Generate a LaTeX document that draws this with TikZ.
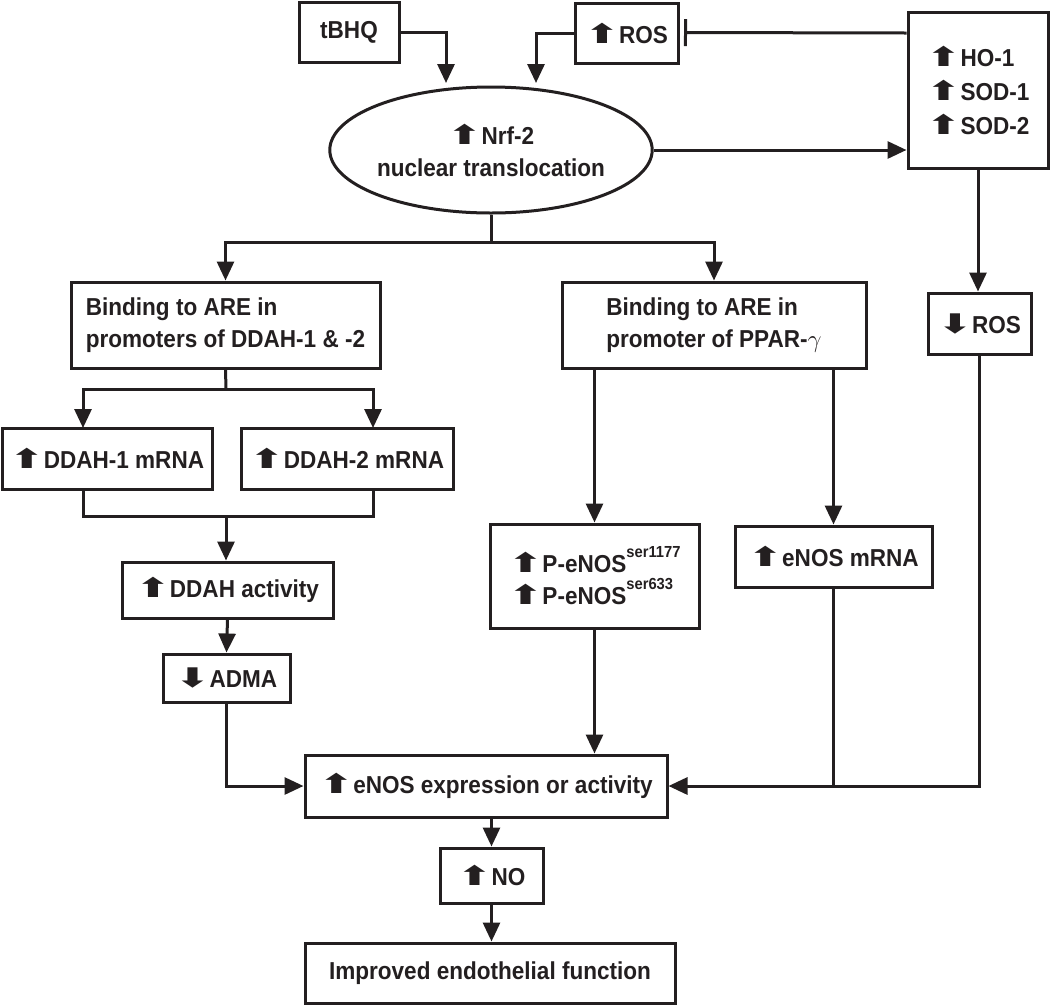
\documentclass[tikz,border=0pt]{standalone}
\usepackage{fontspec}
\usepackage{graphicx}
\setmainfont{Liberation Sans}[FakeStretch=0.92]
\newfontfamily\arrowfont{DejaVu Sans}
\usetikzlibrary{arrows.meta,shapes.geometric,calc}
\definecolor{fg}{RGB}{35,31,32}
\newcommand\upa{\scalebox{1.5}[1]{\arrowfont\fontsize{27}{27}\selectfont\symbol{"2B06}}\hspace{0pt}}
\newcommand\dna{\scalebox{1.5}[1]{\arrowfont\fontsize{27}{27}\selectfont\symbol{"2B07}}\hspace{0pt}}
\newcommand\supr[1]{\raisebox{15pt}{\fontsize{16}{16}\selectfont #1}}
\begin{document}
\begin{tikzpicture}[x=1pt,y=-1pt,
  every node/.style={font=\bfseries\fontsize{24.5}{32}\selectfont, text=fg},
  box/.style={draw=fg, line width=3pt, inner sep=0pt, rectangle},
  ln/.style={draw=fg, line width=3pt},
  arr/.style={ln, -{Triangle[length=19pt,width=17pt]}},
  inh/.style={ln, -{Bar[width=27pt]}}]
\useasboundingbox (0,0) rectangle (1050,1005);
% nodes
\node[box, minimum width=100pt, minimum height=60pt] (tbhq) at (349,32.5) {tBHQ};
\node[box, minimum width=103pt, minimum height=60pt] (rosup) at (626.5,33) {\upa ROS};
\node[box, minimum width=140pt, minimum height=156pt, align=left, font=\bfseries\fontsize{24.5}{34}\selectfont] (ho) at (978,90) {\upa HO-1\\ \upa SOD-1\\ \upa SOD-2};
\node[draw=fg, line width=3pt, ellipse, inner sep=0pt, minimum width=286pt, minimum height=126pt, align=center] (nrf) at (491,150) {\upa Nrf-2\\ nuclear translocation};
\node[box, minimum width=309pt, minimum height=86pt, align=left] (b1) at (225.5,325) {Binding to ARE in\\ promoters of DDAH-1 \& -2};
\node[box, minimum width=304pt, minimum height=86pt, align=left] (b2) at (714,325) {Binding to ARE in\\ promoter of PPAR-$\gamma$};
\node[box, minimum width=103pt, minimum height=61pt] (rosd) at (979.5,323.5) {\dna ROS};
\node[box, minimum width=210pt, minimum height=61pt] (d1) at (107,458.5) {\upa DDAH-1 mRNA};
\node[box, minimum width=212pt, minimum height=61pt] (d2) at (347,458.5) {\upa DDAH-2 mRNA};
\node[box, minimum width=211pt, minimum height=56pt] (da) at (227.5,590) {\upa DDAH activity};
\node[box, minimum width=127pt, minimum height=48pt] (adma) at (226.5,678) {\dna ADMA};
\node[box, minimum width=209pt, minimum height=104pt, align=left] (pe) at (594.5,576) {\upa P-eNOS\supr{ser1177}\\ \upa P-eNOS\supr{ser633}};
\node[box, minimum width=197pt, minimum height=61pt] (em) at (833.5,556.5) {\upa eNOS mRNA};
\node[box, minimum width=362pt, minimum height=62pt] (enos) at (486,786) {\upa eNOS expression or activity};
\node[box, minimum width=103pt, minimum height=55pt] (no) at (491.5,875.5) {\upa NO};
\node[box, minimum width=370pt, minimum height=60pt] (imp) at (490,973) {Improved endothelial function};
% coordinates
\coordinate (t1) at (446,83);
\coordinate (r1) at (536,83);
\coordinate (bar) at (684,32.5);
\coordinate (s1) at (491,242);
\coordinate (s2) at (226,389);
\coordinate (d1in) at (83,428);
\coordinate (d2in) at (373,428);
\coordinate (d1out) at (83,489);
\coordinate (d2out) at (373,489);
\coordinate (j2) at (226,516);
% connectors
\draw[arr] (tbhq.east) -| (t1);
\draw[arr] (rosup.west) -| (r1);
\draw[inh] (ho.west |- rosup.east) -- (bar);
\draw[arr] (nrf.east) -- (nrf.east -| ho.west);
\draw[ln] (nrf.south) -- (s1);
\draw[arr] (s1) -| (b1.north);
\draw[arr] (s1) -| (b2.north);
\draw[arr] (ho.south) -- (ho.south |- rosd.north);
\draw[ln] (b1.south) -- (s2);
\draw[arr] (s2) -| (d1in);
\draw[arr] (s2) -| (d2in);
\draw[ln] (d1out) -- (d1out |- j2) -| (d2out);
\draw[arr] (j2) -- (j2 |- da.north);
\draw[arr] (da.south) -- (adma.north);
\draw[arr] (adma.south) |- (enos.west);
\draw[arr] (pe.north |- b2.south) -- (pe.north);
\draw[arr] (em.north |- b2.south) -- (em.north);
\draw[arr] (pe.south) -- (pe.south |- enos.north);
\draw[ln] (em.south) -- (em.south |- enos.east);
\draw[arr] (rosd.south) |- (enos.east);
\draw[arr] (no.north |- enos.south) -- (no.north);
\draw[arr] (no.south) -- (no.south |- imp.north);
\end{tikzpicture}
\end{document}
